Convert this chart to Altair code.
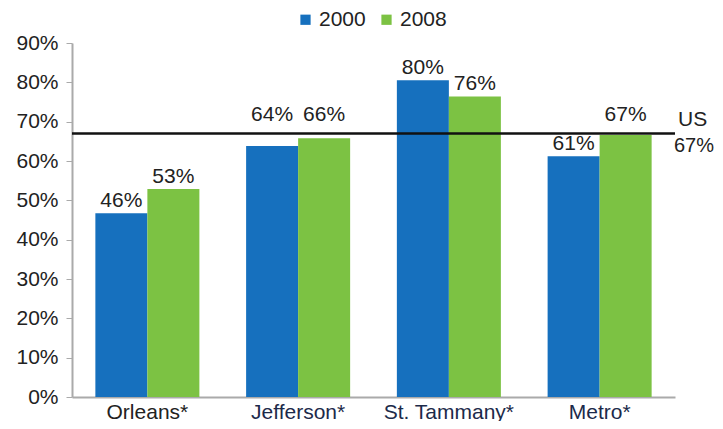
import altair as alt
import pandas as pd

regions = ["Orleans*", "Jefferson*", "St. Tammany*", "Metro*"]
v2000 = [46.7, 63.8, 80.5, 61.2]
v2008 = [52.9, 65.8, 76.4, 66.6]
labels2000 = ["46%", "64%", "80%", "61%"]
labels2008 = ["53%", "66%", "76%", "67%"]
years = ["2000", "2008"]
us_value = 67
us_labels = ["US", "67%"]

rows = []
for i, r in enumerate(regions):
    for yr, vals, labs in (("2000", v2000, labels2000), ("2008", v2008, labels2008)):
        v = vals[i]
        ly = v
        if us_value - 4 <= v <= us_value + 1.5:
            ly = us_value + 1.7
        rows.append({"region": r, "year": yr, "value": v, "label": labs[i], "label_y": ly})
df = pd.DataFrame(rows)

W, H = 603, 354
BLUE = "#1670BE"
GREEN = "#7CC243"
FONT = "Liberation Sans"
FS = 21

y_scale = alt.Scale(domain=[0, 90])
y_axis = alt.Axis(values=list(range(0, 91, 10)), labelExpr="datum.value + '%'",
                  labelOverlap=False, tickCount=10,
                  grid=False, domainColor="#AAAAAA", domainWidth=2, tickColor="#AAAAAA",
                  tickSize=6, labelFontSize=FS, labelFont=FONT, labelColor="#222222",
                  labelPadding=8)

x_axis = alt.Axis(labelAngle=0, ticks=False, domainColor="#AAAAAA", domainWidth=2,
                  labelFontSize=FS, labelFont=FONT, labelPadding=4,
                  labelColor={"condition": {"test": "datum.value == 'Orleans*'", "value": "#222222"},
                              "value": "#1C2A4A"})
x_scale = alt.Scale(paddingInner=0.31, paddingOuter=0.155)

bars = alt.Chart(df).mark_bar().encode(
    x=alt.X("region:N", sort=regions, title=None, scale=x_scale, axis=x_axis),
    xOffset=alt.XOffset("year:N", sort=years),
    y=alt.Y("value:Q", scale=y_scale, title=None, axis=y_axis),
    color=alt.Color("year:N", sort=years, scale=alt.Scale(domain=years, range=[BLUE, GREEN]),
                    legend=alt.Legend(title=None, orient="none", legendX=223, legendY=-34,
                                      direction="horizontal", symbolType="square", symbolSize=105,
                                      symbolStrokeWidth=0, labelFontSize=FS, labelFont=FONT,
                                      labelColor="#222222", columnPadding=10, labelOffset=3)),
)

texts = alt.Chart(df).mark_text(baseline="bottom", dy=-2, fontSize=FS, font=FONT, color="#222222").encode(
    x=alt.X("region:N", sort=regions, title=None, scale=x_scale, axis=x_axis),
    xOffset=alt.XOffset("year:N", sort=years),
    y=alt.Y("label_y:Q", scale=y_scale, title=None, axis=y_axis),
    text="label:N",
)

us_df = pd.DataFrame({"v": [us_value], "l1": [us_labels[0]], "l2": [us_labels[1]]})
rule = alt.Chart(us_df).mark_rule(color="#111111", strokeWidth=2.5).encode(
    y=alt.Y("v:Q", scale=y_scale, title=None, axis=y_axis), x=alt.value(0), x2=alt.value(W))
us1 = alt.Chart(us_df).mark_text(align="left", baseline="bottom", dy=-3, fontSize=FS, font=FONT,
                                 color="#222222").encode(
    y=alt.Y("v:Q", scale=y_scale, title=None, axis=y_axis), x=alt.value(W + 3), text="l1:N")
us2 = alt.Chart(us_df).mark_text(align="right", baseline="top", dy=3, fontSize=20, font=FONT,
                                 color="#222222").encode(
    y=alt.Y("v:Q", scale=y_scale, title=None, axis=y_axis), x=alt.value(W + 39), text="l2:N")

chart = alt.layer(bars, texts, rule, us1, us2).properties(
    width=W, height=H,
    autosize=alt.AutoSizeParams(type="none"),
    padding={"left": 64, "top": 35, "right": 40, "bottom": 24},
).configure_view(stroke=None)

chart.save("out.html", embed_options={"renderer": "svg", "actions": False})
